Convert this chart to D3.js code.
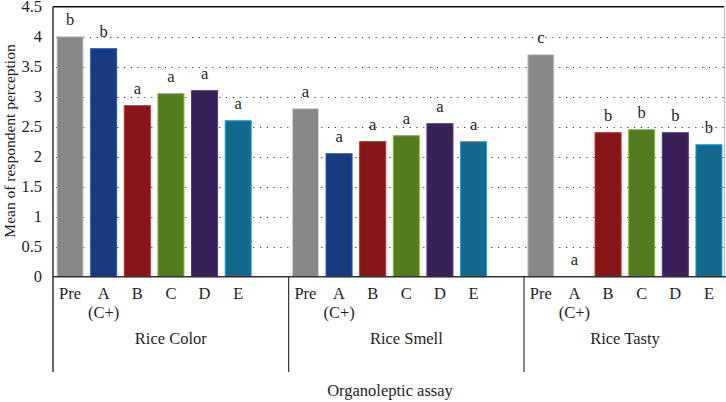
<!DOCTYPE html>
<html><head><meta charset="utf-8">
<script src="https://cdn.jsdelivr.net/npm/d3@7"></script>
<style>body{margin:0;background:#fff}svg{display:block}text{font-family:"Liberation Serif","DejaVu Serif",serif;fill:#1e1e1e}</style>
</head><body><div id="chart"></div>
<script>
const groups = ["Rice Color", "Rice Smell", "Rice Tasty"];
const treatments = ["Pre", "A", "B", "C", "D", "E"];
const treatmentSub = ["", "(C+)", "", "", "", ""];
const colorValues = [4.0, 3.8, 2.85, 3.05, 3.1, 2.6];
const smellValues = [2.8, 2.05, 2.25, 2.35, 2.55, 2.25];
const tastyValues = [3.7, 0, 2.4, 2.45, 2.4, 2.2];
const colorLetters = ["b", "b", "a", "a", "a", "a"];
const smellLetters = ["a", "a", "a", "a", "a", "a"];
const tastyLetters = ["c", "a", "b", "b", "b", "b"];
const yTicks = [0, 0.5, 1, 1.5, 2, 2.5, 3, 3.5, 4, 4.5];
const barColors = ["#878787", "#173a80", "#861617", "#527c1d", "#3a2059", "#136a8e"];
const yTitle = "Mean of respondent perception";
const xTitle = "Organoleptic assay";

const W = 726, H = 402;
const mLeft = 53, mRight = 726, mTop = 6.7, mBottom = 276.7;
const svg = d3.select("#chart").append("svg").attr("width", W).attr("height", H);

const valuesByGroup = [colorValues, smellValues, tastyValues];
const lettersByGroup = [colorLetters, smellLetters, tastyLetters];
const slots = [];
groups.forEach((g, gi) => {
  treatments.forEach(t => slots.push(g + "|" + t));
  if (gi < groups.length - 1) slots.push(g + "|_gap");
});
const x = d3.scaleBand().domain(slots).range([mLeft, mRight]).paddingInner(0.226).paddingOuter(0.12);
const y = d3.scaleLinear().domain([0, 4.5]).range([mBottom, mTop]);
const gapHalf = (x.step() - x.bandwidth()) / 2;

const data = [];
groups.forEach((g, gi) => treatments.forEach((t, ti) => data.push({
  g, gi, t, ti, key: g + "|" + t, v: valuesByGroup[gi][ti], letter: lettersByGroup[gi][ti]
})));

// grid (dotted)
svg.append("g").selectAll("line").data(yTicks.filter(d => d > 0 && d < 4.5)).join("line")
  .attr("x1", mLeft + 3).attr("x2", 724).attr("y1", d => Math.round(y(d)) + 0.5).attr("y2", d => Math.round(y(d)) + 0.5)
  .attr("stroke", "#333").attr("stroke-width", 1).attr("stroke-dasharray", "1.2,5.6");

// y axis
const yAxis = d3.axisLeft(y).tickValues(yTicks).tickSize(0).tickPadding(11).tickFormat(d => String(d));
const ya = svg.append("g").attr("transform", `translate(${mLeft},0)`).call(yAxis);
ya.select(".domain").remove();
ya.selectAll("text").style("font-size", "16.5px").style("font-family", "'Liberation Serif', serif").attr("fill", "#1e1e1e");

// bars
svg.append("g").selectAll("rect").data(data.filter(d => d.v > 0)).join("rect")
  .attr("x", d => x(d.key)).attr("width", x.bandwidth())
  .attr("y", d => y(d.v)).attr("height", d => y(0) - y(d.v))
  .attr("fill", d => barColors[d.ti])
  .attr("stroke", d => d3.color(barColors[d.ti]).brighter(1.2)).attr("stroke-width", 1);

// letters
svg.append("g").selectAll("text").data(data).join("text")
  .attr("x", d => x(d.key) + x.bandwidth() / 2).attr("y", d => y(d.v) - 11.5)
  .attr("text-anchor", "middle").style("font-size", "16.5px").text(d => d.letter);

// frame
svg.append("line").attr("x1", mLeft).attr("x2", 724).attr("y1", mTop).attr("y2", mTop).attr("stroke", "#111").attr("stroke-width", 1.5);
svg.append("line").attr("x1", 724.5).attr("x2", 724.5).attr("y1", mTop).attr("y2", mBottom).attr("stroke", "#bbb").attr("stroke-width", 1);
svg.append("line").attr("x1", mLeft).attr("x2", 726).attr("y1", mBottom).attr("y2", mBottom).attr("stroke", "#333").attr("stroke-width", 1.5);
svg.append("line").attr("x1", mLeft).attr("x2", mLeft).attr("y1", mTop).attr("y2", 372).attr("stroke", "#333").attr("stroke-width", 1.5);

// group boundaries
const bounds = groups.map((g, gi) => gi === 0 ? mLeft : x(g + "|Pre") - gapHalf);
bounds.push(mRight);
bounds.slice(1, groups.length).forEach(bx => {
  svg.append("line").attr("x1", bx).attr("x2", bx).attr("y1", mBottom).attr("y2", 372).attr("stroke", "#333").attr("stroke-width", 1.2);
});

// x tick labels
const xl = svg.append("g");
data.forEach(d => {
  const cx = x(d.key) + x.bandwidth() / 2;
  xl.append("text").attr("x", cx).attr("y", 299).attr("text-anchor", "middle").style("font-size", "16.5px").text(d.t);
  if (treatmentSub[d.ti]) xl.append("text").attr("x", cx).attr("y", 318).attr("text-anchor", "middle").style("font-size", "16.5px").text(treatmentSub[d.ti]);
});

// group labels
groups.forEach((g, gi) => {
  svg.append("text").attr("x", (bounds[gi] + bounds[gi + 1]) / 2).attr("y", 344).attr("text-anchor", "middle").style("font-size", "16.5px").text(g);
});

svg.append("text").attr("x", 390).attr("y", 396).attr("text-anchor", "middle").style("font-size", "16.5px").text(xTitle);
svg.append("text").attr("transform", `translate(15,${141}) rotate(-90)`).attr("text-anchor", "middle").style("font-size", "15.5px").text(yTitle);
</script></body></html>
